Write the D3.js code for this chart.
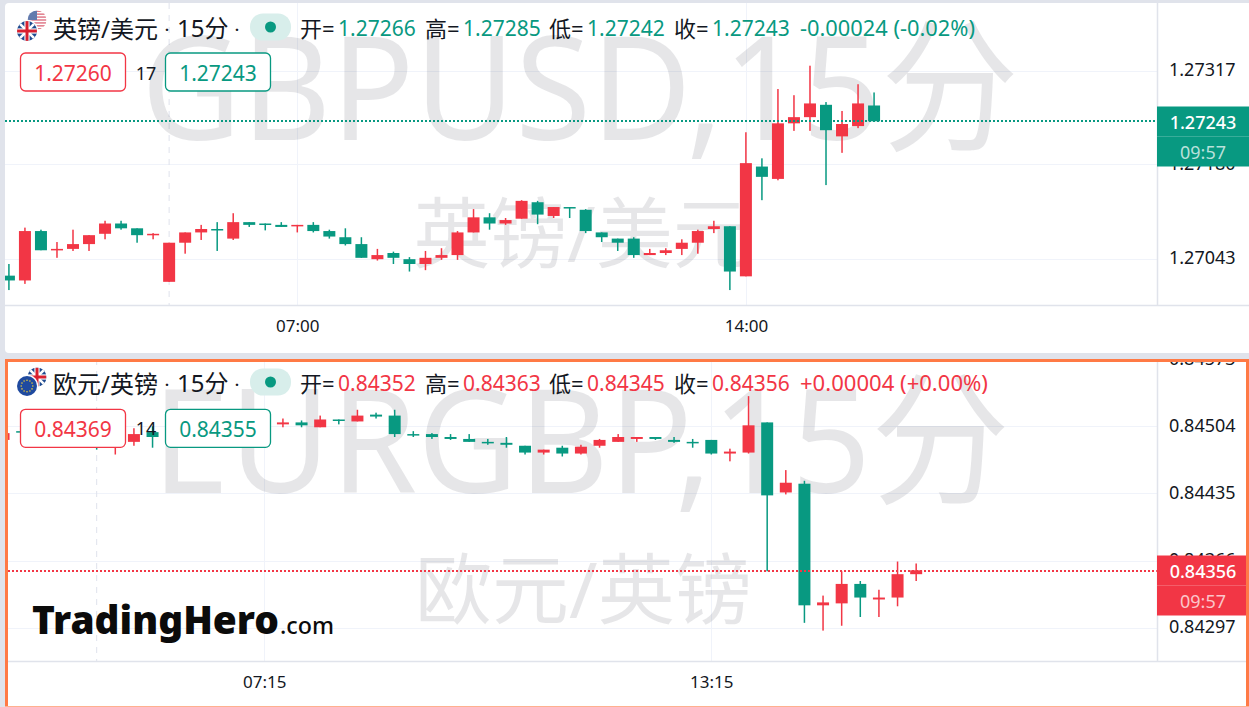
<!DOCTYPE html>
<html><head><meta charset="utf-8">
<script src="https://cdnjs.cloudflare.com/ajax/libs/d3/7.8.5/d3.min.js"></script>
<style>
html,body{margin:0;padding:0;background:#e0e3eb;overflow:hidden}
svg{display:block}
text{font-family:"Noto Sans","Noto Sans CJK SC",sans-serif}
</style></head><body>
<svg id="c" width="1249" height="707"></svg>
<script>
const upColor="#f23645", downColor="#089981";

// GBPUSD candles: open, high, low, close
const gbpOpen=[1.27018,1.27011,1.27083,1.27055,1.27057,1.27064,1.27079,1.27094,1.27087,1.27077,1.27009,1.27066,1.27081,1.27086,1.27072,1.27096,1.27094,1.27092,1.27090,1.27092,1.27083,1.27074,1.27064,1.27042,1.27051,1.27042,1.27035,1.27044,1.27048,1.27081,1.27103,1.27094,1.27101,1.27125,1.27105,1.27118,1.27114,1.27081,1.27072,1.27072,1.27048,1.27051,1.27057,1.27066,1.27086,1.27090,1.27017,1.27177,1.27159,1.27240,1.27249,1.27267,1.27221,1.27236,1.27266];
const gbpHigh=[1.27035,1.27088,1.27085,1.27067,1.27085,1.27077,1.27098,1.27098,1.27087,1.27080,1.27066,1.27081,1.27092,1.27096,1.27109,1.27096,1.27094,1.27096,1.27092,1.27096,1.27085,1.27087,1.27074,1.27057,1.27053,1.27045,1.27054,1.27058,1.27083,1.27115,1.27109,1.27102,1.27128,1.27127,1.27118,1.27118,1.27115,1.27081,1.27072,1.27074,1.27057,1.27058,1.27071,1.27085,1.27098,1.27090,1.27227,1.27189,1.27290,1.27281,1.27324,1.27271,1.27258,1.27297,1.27285];
const gbpLow=[1.26997,1.27006,1.27055,1.27044,1.27054,1.27054,1.27071,1.27085,1.27066,1.27071,1.27009,1.27050,1.27070,1.27054,1.27070,1.27089,1.27084,1.27089,1.27081,1.27081,1.27072,1.27062,1.27044,1.27040,1.27035,1.27024,1.27026,1.27041,1.27041,1.27081,1.27085,1.27092,1.27101,1.27093,1.27102,1.27102,1.27080,1.27067,1.27054,1.27044,1.27048,1.27048,1.27048,1.27050,1.27080,1.26997,1.27017,1.27128,1.27157,1.27229,1.27229,1.27150,1.27197,1.27233,1.27242];
const gbpClose=[1.27011,1.27083,1.27055,1.27057,1.27064,1.27077,1.27094,1.27087,1.27077,1.27079,1.27066,1.27081,1.27086,1.27084,1.27096,1.27092,1.27092,1.27089,1.27092,1.27083,1.27075,1.27064,1.27044,1.27048,1.27044,1.27035,1.27044,1.27048,1.27081,1.27103,1.27094,1.27099,1.27127,1.27107,1.27118,1.27116,1.27083,1.27074,1.27066,1.27048,1.27051,1.27055,1.27066,1.27083,1.27090,1.27024,1.27182,1.27162,1.27240,1.27249,1.27269,1.27230,1.27239,1.27269,1.27243];

// EURGBP candles: open, high, low, close
const eurOpen=[0.84490,0.84499,0.84495,0.84497,0.84494,0.84489,0.84486,0.84488,0.84498,0.84494,0.84498,0.84501,0.84504,0.84507,0.84505,0.84506,0.84508,0.84503,0.84511,0.84509,0.84516,0.84515,0.84496,0.84496,0.84493,0.84491,0.84488,0.84487,0.84484,0.84477,0.84482,0.84476,0.84484,0.84488,0.84491,0.84493,0.84490,0.84488,0.84490,0.84476,0.84477,0.84508,0.84436,0.84445,0.84320,0.84322,0.84342,0.84326,0.84328,0.84352];
const eurHigh=[0.84499,0.84500,0.84501,0.84499,0.84497,0.84492,0.84497,0.84502,0.84504,0.84499,0.84504,0.84507,0.84509,0.84510,0.84509,0.84512,0.84510,0.84515,0.84511,0.84521,0.84518,0.84521,0.84499,0.84497,0.84496,0.84496,0.84491,0.84493,0.84484,0.84480,0.84484,0.84485,0.84491,0.84496,0.84493,0.84493,0.84493,0.84491,0.84490,0.84481,0.84535,0.84508,0.84459,0.84448,0.84330,0.84355,0.84345,0.84336,0.84365,0.84363];
const eurLow=[0.84488,0.84497,0.84491,0.84490,0.84487,0.84480,0.84475,0.84484,0.84482,0.84490,0.84494,0.84498,0.84500,0.84503,0.84503,0.84503,0.84503,0.84503,0.84506,0.84509,0.84512,0.84493,0.84493,0.84491,0.84490,0.84488,0.84485,0.84482,0.84475,0.84475,0.84473,0.84475,0.84482,0.84488,0.84488,0.84490,0.84487,0.84482,0.84475,0.84468,0.84476,0.84355,0.84434,0.84302,0.84294,0.84299,0.84308,0.84308,0.84319,0.84345];
const eurClose=[0.84497,0.84498,0.84497,0.84494,0.84489,0.84486,0.84490,0.84496,0.84493,0.84498,0.84501,0.84504,0.84507,0.84505,0.84506,0.84508,0.84505,0.84511,0.84510,0.84515,0.84514,0.84496,0.84495,0.84493,0.84491,0.84488,0.84487,0.84485,0.84477,0.84480,0.84476,0.84483,0.84490,0.84493,0.84493,0.84491,0.84488,0.84487,0.84476,0.84478,0.84505,0.84433,0.84446,0.84320,0.84323,0.84342,0.84328,0.84328,0.84352,0.84356];

const gbpTicks=[1.27317,1.27180,1.27043];
const eurTicks=[0.84573,0.84504,0.84435,0.84366,0.84297];
const gbpTimeLabels=[{i:18,t:"07:00"},{i:46,t:"14:00"}];
const eurTimeLabels=[{i:14,t:"07:15"},{i:38,t:"13:15"}];

const svg=d3.select("#c");
const defs=svg.append("defs");

function flagUK(g,cx,cy,r,id){
  defs.append("clipPath").attr("id",id).append("circle").attr("cx",cx).attr("cy",cy).attr("r",r);
  const f=g.append("g").attr("clip-path",`url(#${id})`);
  f.append("rect").attr("x",cx-r).attr("y",cy-r).attr("width",2*r).attr("height",2*r).attr("fill","#1f4a8f");
  f.append("line").attr("x1",cx-r).attr("y1",cy-r).attr("x2",cx+r).attr("y2",cy+r).attr("stroke","#fff").attr("stroke-width",2.6);
  f.append("line").attr("x1",cx+r).attr("y1",cy-r).attr("x2",cx-r).attr("y2",cy+r).attr("stroke","#fff").attr("stroke-width",2.6);
  f.append("rect").attr("x",cx-r).attr("y",cy-2.6).attr("width",2*r).attr("height",5.2).attr("fill","#fff");
  f.append("rect").attr("x",cx-2.6).attr("y",cy-r).attr("width",5.2).attr("height",2*r).attr("fill","#fff");
  f.append("rect").attr("x",cx-r).attr("y",cy-1.5).attr("width",2*r).attr("height",3).attr("fill","#d8202f");
  f.append("rect").attr("x",cx-1.5).attr("y",cy-r).attr("width",3).attr("height",2*r).attr("fill","#d8202f");
}
function flagUS(g,cx,cy,r,id){
  defs.append("clipPath").attr("id",id).append("circle").attr("cx",cx).attr("cy",cy).attr("r",r);
  const f=g.append("g").attr("clip-path",`url(#${id})`).attr("opacity",.8);
  f.append("rect").attr("x",cx-r).attr("y",cy-r).attr("width",2*r).attr("height",2*r).attr("fill","#fff");
  d3.range(0,7).forEach(k=>f.append("rect").attr("x",cx-r).attr("y",cy-r+k*2*r/6.5).attr("width",2*r).attr("height",r/6.5).attr("fill","#d8566a"));
  f.append("rect").attr("x",cx-r).attr("y",cy-r).attr("width",r).attr("height",r).attr("fill","#3c5a9a");
}
function flagEU(g,cx,cy,r){
  g.append("circle").attr("cx",cx).attr("cy",cy).attr("r",r).attr("fill","#1f4a9f");
  d3.range(0,12).forEach(k=>{const a=k/12*2*Math.PI;
    g.append("circle").attr("cx",cx+Math.cos(a)*r*0.58).attr("cy",cy+Math.sin(a)*r*0.58).attr("r",0.8).attr("fill","#e8c93a");});
}
function ring(g,cx,cy,r){g.append("circle").attr("cx",cx).attr("cy",cy).attr("r",r+1.2).attr("fill","#fff");}

function panel(o){
  const g=svg.append("g");
  g.append("rect").attr("x",o.left).attr("y",o.top).attr("width",1249-o.left+10).attr("height",o.bottom-o.top).attr("rx",4).attr("fill","#fff");
  const clipId=o.id+"clip";
  defs.append("clipPath").attr("id",clipId).append("rect").attr("x",o.plotL).attr("y",o.top).attr("width",o.axisX-o.plotL).attr("height",o.plotB-o.top);

  const y=d3.scaleLinear().domain(o.yDomain).range(o.yRange);
  const x=d3.scaleLinear().domain(o.xDomain).range(o.xRange);

  const plot=g.append("g").attr("clip-path",`url(#${clipId})`);
  plot.selectAll(".h").data(o.ticks).enter().append("line")
    .attr("x1",o.plotL).attr("x2",o.axisX).attr("y1",d=>Math.round(y(d))+.5).attr("y2",d=>Math.round(y(d))+.5)
    .attr("stroke","#f0f3fa").attr("stroke-width",1);
  plot.selectAll(".v").data(o.times).enter().append("line")
    .attr("y1",o.top).attr("y2",o.plotB).attr("x1",d=>Math.round(x(d.i))+.5).attr("x2",d=>Math.round(x(d.i))+.5)
    .attr("stroke","#f0f3fa").attr("stroke-width",1);
  plot.append("line").attr("x1",x(o.sessionI)).attr("x2",x(o.sessionI)).attr("y1",o.top).attr("y2",o.plotB)
    .attr("stroke","#dfe2ec").attr("stroke-width",1).attr("stroke-dasharray","6 6");
  plot.append("text").attr("x",o.wmX).attr("y",o.wmY).attr("font-size",o.wmSize).attr("font-weight",400).attr("font-family",'"Noto Sans","Noto Sans CJK SC"')
    .attr("fill","#131722").attr("fill-opacity",.105).attr("textLength",o.wmLen).attr("lengthAdjust","spacingAndGlyphs").text(o.wm1);
  plot.append("text").attr("x",o.wm2X).attr("y",o.wm2Y).attr("font-size",77).attr("font-family",'"Noto Sans CJK SC"').attr("font-weight",400)
    .attr("fill","#131722").attr("fill-opacity",.105).text(o.wm2);

  const n=o.open.length, idx=d3.range(n);
  const col=i=>o.close[i]>=o.open[i]?upColor:downColor;
  plot.selectAll(".w").data(idx).enter().append("rect")
    .attr("x",i=>x(i)-.75).attr("width",1.5)
    .attr("y",i=>y(o.high[i])).attr("height",i=>Math.max(1,y(o.low[i])-y(o.high[i])))
    .attr("fill",col);
  plot.selectAll(".b").data(idx).enter().append("rect")
    .attr("x",i=>x(i)-6).attr("width",12)
    .attr("y",i=>y(Math.max(o.open[i],o.close[i])))
    .attr("height",i=>Math.max(1.5,Math.abs(y(o.open[i])-y(o.close[i]))))
    .attr("fill",col);
  const lastY=Math.round(y(o.close[n-1]))+.5;
  const lineY=Math.round(y(o.close[n-1]))+o.lineDy;
  g.append("line").attr("x1",o.plotL).attr("x2",o.axisX).attr("y1",lineY).attr("y2",lineY)
    .attr("stroke",o.lastColor).attr("stroke-width",2).attr("stroke-dasharray","2 2").attr("shape-rendering","crispEdges");

  g.append("line").attr("x1",o.plotL).attr("x2",1249).attr("y1",o.plotB+.5).attr("y2",o.plotB+.5).attr("stroke","#e0e3eb").attr("stroke-width",1.5);
  g.append("line").attr("x1",o.axisX+.5).attr("x2",o.axisX+.5).attr("y1",o.top).attr("y2",o.plotB).attr("stroke","#e0e3eb").attr("stroke-width",1.5);

  const yAxisG=g.append("g");
  yAxisG.call(d3.axisRight(y).tickValues(o.ticks).tickFormat(d3.format(".5f")).tickSize(0).tickPadding(12));
  yAxisG.select(".domain").remove();
  yAxisG.selectAll("text").attr("font-size",18).attr("fill","#131722").attr("font-family",'"Noto Sans"');
  defs.append("clipPath").attr("id",o.id+"ax").append("rect").attr("x",o.axisX).attr("y",o.top).attr("width",92).attr("height",o.plotB-o.top);
  yAxisG.attr("clip-path",`url(#${o.id}ax)`);
  yAxisG.selectAll("g.tick").attr("transform",d=>`translate(${o.axisX},${y(d)})`);

  const tag=g.append("g"), tagW=1249-o.axisX-(o.border?3:0);
  tag.append("rect").attr("x",o.axisX).attr("y",lastY-15).attr("width",tagW).attr("height",60).attr("fill",o.lastColor);
  tag.append("line").attr("x1",o.axisX).attr("x2",o.axisX+tagW).attr("y1",lastY+15).attr("y2",lastY+15).attr("stroke","#fff").attr("stroke-opacity",.2);
  tag.append("text").attr("x",o.axisX+46).attr("y",lastY+7).attr("text-anchor","middle").attr("font-size",18).attr("font-weight",500).attr("fill","#fff").text(d3.format(".5f")(o.close[n-1]));
  tag.append("text").attr("x",o.axisX+46).attr("y",lastY+37).attr("text-anchor","middle").attr("font-size",18).attr("fill","#fff").attr("fill-opacity",.72).text("09:57");

  const xAxisG=g.append("g").attr("transform",`translate(0,${o.plotB})`);
  xAxisG.call(d3.axisBottom(x).tickValues(o.times.map(d=>d.i)).tickFormat(v=>o.times.find(d=>d.i===v).t).tickSize(0).tickPadding(15));
  xAxisG.select(".domain").remove();
  xAxisG.selectAll("text").attr("font-size",17).attr("fill","#131722").attr("font-family",'"Noto Sans"');

  const H=o.headY;
  g.append("text").attr("x",53).attr("y",H+9).attr("font-size",24).attr("fill","#131722").attr("font-family",'"Noto Sans CJK SC"').text(o.title);
  g.append("text").attr("x",165).attr("y",H+6).attr("font-size",14).attr("font-weight",700).attr("fill","#131722").text("·");
  g.append("text").attr("x",177).attr("y",H+8).attr("font-size",24).attr("fill","#131722").attr("font-family",'"Noto Sans","Noto Sans CJK SC"').text("15分");
  g.append("text").attr("x",235).attr("y",H+6).attr("font-size",14).attr("font-weight",700).attr("fill","#131722").text("·");
  g.append("rect").attr("x",250).attr("y",H-15.5).attr("width",41).attr("height",27).attr("rx",13).attr("fill","#d8eeeb");
  g.append("circle").attr("cx",270.5).attr("cy",H-2).attr("r",5.5).attr("fill",downColor);
  o.flags(g);

  const ohlc=[["开=",300],["高=",425],["低=",549],["收=",674]];
  const fmt=d3.format(".5f");
  const vals=[o.open[n-1],o.high[n-1],o.low[n-1],o.close[n-1]];
  ohlc.forEach((d,k)=>{
    g.append("text").attr("x",d[1]).attr("y",H+8).attr("font-size",22).attr("fill","#131722").attr("font-family",'"Noto Sans CJK SC"').text(d[0]);
    g.append("text").attr("x",d[1]+38).attr("y",H+7).attr("font-size",21).attr("fill",o.lastColor).text(fmt(vals[k]));
  });
  g.append("text").attr("x",o.chgX).attr("y",H+7).attr("font-size",21).attr("fill",o.lastColor).attr("textLength",o.chgLen).attr("lengthAdjust","spacingAndGlyphs").text(o.change);

  const by=o.boxY;
  [[o.bid,20.5,upColor],[o.ask,165.5,downColor]].forEach(d=>{
    g.append("rect").attr("x",d[1]).attr("y",by).attr("width",105).attr("height",38).attr("rx",5).attr("fill","#fff").attr("stroke",d[2]).attr("stroke-width",1.3);
    g.append("text").attr("x",d[1]+52.5).attr("y",by+27.5).attr("text-anchor","middle").attr("font-size",21).attr("fill",d[2]).text(d[0]);
  });
  g.append("text").attr("x",146).attr("y",by+o.spreadDy).attr("text-anchor","middle").attr("font-size",18).attr("fill","#131722").text(o.spread);
  return g;
}

panel({id:"a",left:5,top:3,bottom:353,plotL:5,plotB:305,axisX:1157,lineDy:0,
  open:gbpOpen,high:gbpHigh,low:gbpLow,close:gbpClose,
  ticks:gbpTicks,times:gbpTimeLabels,sessionI:10,
  yDomain:[1.27317,1.27043],yRange:[70.5,258.5],xDomain:[18,46],xRange:[297.3,745.9],
  lastColor:downColor,wm1:"GBPUSD,15分",wmX:141,wmY:140,wmSize:144,wmLen:878,wm2:"英镑/美元",wm2X:413,wm2Y:262,
  title:"英镑/美元",headY:29,change:"-0.00024 (-0.02%)",chgX:800,chgLen:175,bid:"1.27260",ask:"1.27243",spread:"17",spreadDy:27,boxY:53,
  flags:g=>{flagUS(g,37,20,9.5,"us");ring(g,27,31,10);flagUK(g,27,31,10,"uk1");}
});
panel({id:"b",left:5,top:359,bottom:707,border:true,plotL:8,plotB:661,axisX:1157,lineDy:1,
  open:eurOpen,high:eurHigh,low:eurLow,close:eurClose,
  ticks:eurTicks,times:eurTimeLabels,sessionI:5,
  yDomain:[0.84504,0.84297],yRange:[426.3,627.7],xDomain:[14,38],xRange:[264.3,711.3],
  lastColor:upColor,wm1:"EURGBP,15分",wmX:152,wmY:493,wmSize:144,wmLen:858,wm2:"欧元/英镑",wm2X:415,wm2Y:618,
  title:"欧元/英镑",headY:384,change:"+0.00004 (+0.00%)",chgX:800,chgLen:188,bid:"0.84369",ask:"0.84355",spread:"14",spreadDy:26,boxY:409.3,
  flags:g=>{flagUK(g,37,377,9.5,"uk2");ring(g,27,386,10);flagEU(g,27,386,10);}
});
// active border: left, top, right in full colour, bottom edge fainter
svg.append("path").attr("d","M6.5 707V360.5H1247.5V707").attr("fill","none").attr("stroke","#ff7a45").attr("stroke-width",3);
svg.append("line").attr("x1",5).attr("x2",1249).attr("y1",706.5).attr("y2",706.5).attr("stroke","#ffb08f").attr("stroke-width",1);
// logo
svg.append("text").attr("x",32).attr("y",634).attr("font-family","Inter").attr("font-weight",900).attr("font-size",38).attr("textLength",247).attr("lengthAdjust","spacingAndGlyphs").attr("fill","#0b0b0b").text("TradingHero");
svg.append("text").attr("x",280).attr("y",634).attr("font-family","Inter").attr("font-weight",500).attr("font-size",24).attr("textLength",54).attr("lengthAdjust","spacingAndGlyphs").attr("fill","#0b0b0b").text(".com");
</script>
</body></html>
